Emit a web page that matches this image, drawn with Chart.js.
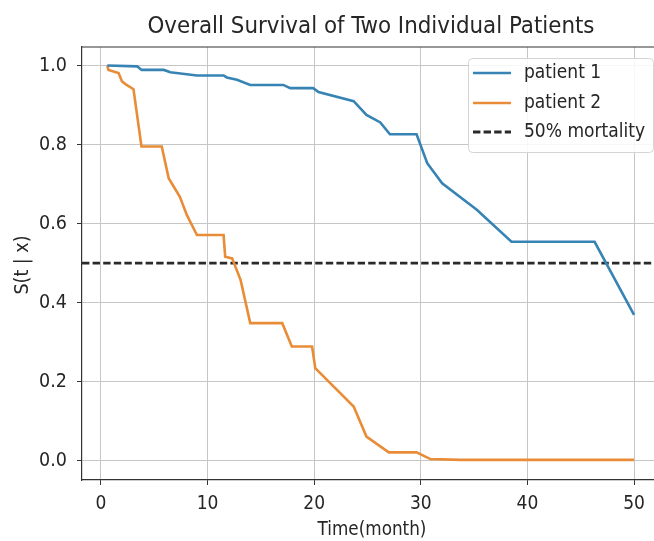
<!DOCTYPE html>
<html>
<head>
<meta charset="utf-8">
<script src="https://cdn.jsdelivr.net/npm/chart.js@4.4.1/dist/chart.umd.min.js"></script>
<style>
  html, body { margin: 0; padding: 0; background: #fff; overflow: hidden; }
  canvas { display: block; }
</style>
</head>
<body>
<canvas id="survChart" width="654" height="541"></canvas>
<script>
// values
const p1Times = [0.6, 3.4, 3.8, 5.9, 6.5, 9.0, 11.5, 11.8, 12.75, 14.0, 17.1, 17.75, 19.9, 20.4, 23.7, 24.9, 26.2, 27.1, 29.6, 30.6, 32.0, 35.25, 38.5, 46.3, 50.0];
const p1Surv = [1.0, 0.998, 0.989, 0.989, 0.983, 0.975, 0.975, 0.970, 0.964, 0.951, 0.951, 0.943, 0.943, 0.933, 0.910, 0.875, 0.856, 0.826, 0.826, 0.753, 0.702, 0.635, 0.554, 0.554, 0.369];

const p2Times = [0.6, 0.7, 1.65, 1.97, 2.4, 3.05, 3.8, 5.7, 6.35, 7.4, 8.05, 9.0, 11.5, 11.65, 12.3, 13.1, 14.0, 17.0, 17.9, 19.8, 20.1, 23.7, 24.9, 27.0, 29.6, 30.9, 33.7, 50.0];
const p2Surv = [1.0, 0.989, 0.981, 0.960, 0.951, 0.940, 0.795, 0.795, 0.715, 0.668, 0.622, 0.571, 0.571, 0.516, 0.512, 0.457, 0.348, 0.348, 0.289, 0.289, 0.234, 0.137, 0.061, 0.021, 0.021, 0.004, 0.002, 0.002];

const mortalityLevel = 0.5;
const xTickValues = [0, 10, 20, 30, 40, 50];
const yTickValues = [0.0, 0.2, 0.4, 0.6, 0.8, 1.0];
const seriesLabels = ['patient 1', 'patient 2', '50% mortality'];

const xMin = -1.78, xMax = 51.87;
const yMin = -0.049, yMax = 1.047;

const FONT = "'DejaVu Sans Condensed', 'DejaVu Sans', sans-serif";
const TEXT = '#262626';

const toPoints = (xs, ys) => xs.map((x, i) => ({ x: x, y: ys[i] }));

// title, axis labels, top spine and the legend box
const extras = {
    id: 'extras',
    afterDraw(chart) {
        const ctx = chart.ctx;
        const area = chart.chartArea;
        ctx.save();

        ctx.strokeStyle = '#333';
        ctx.lineWidth = 1.2;
        ctx.beginPath();
        ctx.moveTo(area.left, area.top);
        ctx.lineTo(area.right, area.top);
        ctx.stroke();

        ctx.fillStyle = TEXT;
        ctx.textAlign = 'center';
        ctx.textBaseline = 'middle';
        ctx.font = '23.8px ' + FONT;
        ctx.fillText('Overall Survival of Two Individual Patients', 371, 27);

        ctx.font = '18.7px ' + FONT;
        ctx.fillText('Time(month)', 372, 530);
        ctx.save();
        ctx.translate(23, 265);
        ctx.rotate(-Math.PI / 2);
        ctx.font = '19.5px ' + FONT;
        ctx.fillText('S(t | x)', 0, 0);
        ctx.restore();

        // legend
        const bx = 468, by = 58, bw = 185, bh = 94, r = 4;
        ctx.fillStyle = 'rgba(255,255,255,0.85)';
        ctx.strokeStyle = '#d4d4d4';
        ctx.lineWidth = 1;
        ctx.beginPath();
        ctx.roundRect(bx + 0.5, by + 0.5, bw, bh, r);
        ctx.fill();
        ctx.stroke();

        const rows = [73, 103, 132];
        ctx.textAlign = 'left';
        ctx.font = '19px ' + FONT;
        chart.data.datasets.forEach((ds, i) => {
            ctx.strokeStyle = ds.borderColor;
            ctx.lineWidth = ds.borderWidth;
            ctx.setLineDash(ds.borderDash || []);
            ctx.beginPath();
            ctx.moveTo(473, rows[i]);
            ctx.lineTo(511, rows[i]);
            ctx.stroke();
            ctx.setLineDash([]);
            ctx.fillStyle = TEXT;
            ctx.fillText(ds.label, 524, rows[i]);
        });
        ctx.restore();
    }
};

new Chart(document.getElementById('survChart').getContext('2d'), {
    type: 'line',
    data: {
        datasets: [{
            label: seriesLabels[0],
            data: toPoints(p1Times, p1Surv),
            borderColor: '#3784b4',
            borderWidth: 2.6,
            pointRadius: 0,
            tension: 0
        }, {
            label: seriesLabels[1],
            data: toPoints(p2Times, p2Surv),
            borderColor: '#e98c37',
            borderWidth: 2.6,
            pointRadius: 0,
            tension: 0
        }, {
            label: seriesLabels[2],
            data: toPoints([xMin, xMax], [mortalityLevel, mortalityLevel]),
            borderColor: '#2a2a2a',
            borderWidth: 2.8,
            borderDash: [7.4, 3.2],
            pointRadius: 0,
            tension: 0
        }]
    },
    options: {
        responsive: false,
        devicePixelRatio: 1,
        animation: false,
        layout: { padding: { top: 47, left: 0, right: 0, bottom: 0 } },
        plugins: {
            legend: { display: false },
            title: { display: false },
            tooltip: { enabled: false }
        },
        scales: {
            x: {
                type: 'linear',
                min: xMin,
                max: xMax,
                afterBuildTicks: axis => { axis.ticks = xTickValues.map(v => ({ value: v })); },
                afterFit: axis => { axis.height = 61; },
                grid: { color: '#c6c6c6', lineWidth: 1, tickColor: '#333', tickLength: 5 },
                border: { color: '#333', width: 1.2 },
                ticks: {
                    color: TEXT,
                    padding: 8,
                    maxRotation: 0,
                    font: { family: FONT, size: 19 },
                    callback: v => String(v)
                }
            },
            y: {
                min: yMin,
                max: yMax,
                afterBuildTicks: axis => { axis.ticks = yTickValues.map(v => ({ value: v })); },
                afterFit: axis => { axis.width = 82; },
                grid: { color: '#c6c6c6', lineWidth: 1, tickColor: '#333', tickLength: 5 },
                border: { color: '#333', width: 1.2 },
                ticks: {
                    color: TEXT,
                    padding: 10,
                    font: { family: FONT, size: 19.5 },
                    callback: v => v.toFixed(1)
                }
            }
        }
    },
    plugins: [extras]
});
</script>
</body>
</html>
